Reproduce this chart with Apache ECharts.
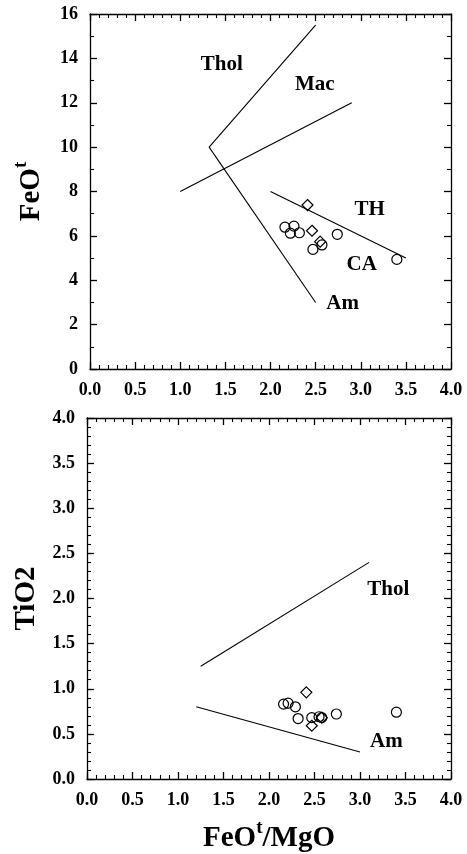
<!DOCTYPE html>
<html>
<head>
<meta charset="utf-8">
<script src="https://cdn.jsdelivr.net/npm/echarts@6/dist/echarts.min.js"></script>
<style>
  html, body { margin: 0; padding: 0; background: #fff; }
  #chart { width: 467px; height: 854px; }
</style>
</head>
<body>
<div id="chart"></div>
<script>
// FeOt vs FeOt/MgO (upper panel)
const feoCircles = [[2.16, 6.39], [2.26, 6.44], [2.22, 6.12], [2.32, 6.14], [2.47, 5.39], [2.57, 5.59], [2.74, 6.07], [3.40, 4.94]];
const feoDiamonds = [[2.41, 7.39], [2.46, 6.23], [2.55, 5.74]];
const feoTholAm = [[2.5, 15.5], [1.32, 10.0], [2.5, 3.0]];
const feoMacLine = [[1.0, 8.0], [2.9, 12.0]];
const feoThCaLine = [[2.0, 8.0], [3.5, 5.0]];
const feoFieldNames = ['Thol', 'Mac', 'TH', 'CA', 'Am'];
const feoFieldPos = [[1.46, 13.7], [2.49, 12.8], [3.1, 7.17], [3.01, 4.69], [2.8, 2.97]];

// TiO2 vs FeOt/MgO (lower panel)
const tiCircles = [[2.16, 0.83], [2.21, 0.84], [2.29, 0.80], [2.32, 0.67], [2.47, 0.68], [2.55, 0.69], [2.58, 0.68], [2.74, 0.72], [3.40, 0.74]];
const tiDiamonds = [[2.41, 0.96], [2.47, 0.59], [2.58, 0.68]];
const tiTholLine = [[1.25, 1.25], [3.1, 2.4]];
const tiAmLine = [[1.2, 0.8], [3.0, 0.3]];
const tiFieldNames = ['Thol', 'Am'];
const tiFieldPos = [[3.31, 2.1], [3.29, 0.42]];

// Axis ranges
const xRange = { min: 0, max: 4, interval: 0.5, minor: 5 };
const feoRange = { min: 0, max: 16, interval: 2, minor: 2 };
const tiRange = { min: 0, max: 4, interval: 0.5, minor: 5 };

const INK = '#000';
const SERIF = '"Liberation Serif", "DejaVu Serif", serif';

// Framed axis: ticks point into the plot; only bottom/left carry labels
function axis(pos, gridIndex, range, fmt, extra) {
  const a = {
    type: 'value', gridIndex: gridIndex, position: pos,
    min: range.min, max: range.max, interval: range.interval,
    splitLine: { show: false },
    axisLine: { show: true, onZero: false, lineStyle: { color: INK, width: 1.3 } },
    axisTick: { show: true, inside: true, length: 7, lineStyle: { color: INK, width: 1.3 } },
    minorTick: { show: true, splitNumber: range.minor, length: 4, lineStyle: { color: INK, width: 1.1 } },
    minorSplitLine: { show: false },
    axisLabel: { show: pos === 'bottom' || pos === 'left', fontFamily: SERIF, fontWeight: 'bold', fontSize: 18, color: INK, margin: 12 }
  };
  if (fmt) a.axisLabel.formatter = fmt;
  return Object.assign(a, extra || {});
}

function boundary(data, xi, yi) {
  return {
    type: 'line', data: data, xAxisIndex: xi, yAxisIndex: yi,
    showSymbol: false, symbol: 'none', silent: true,
    lineStyle: { color: INK, width: 1.1 }
  };
}

function markers(data, shape, size, xi, yi) {
  return {
    type: 'scatter', data: data, xAxisIndex: xi, yAxisIndex: yi,
    symbol: shape, symbolSize: size,
    itemStyle: { color: 'rgba(255,255,255,0)', borderColor: INK, borderWidth: 1.2, opacity: 1 }
  };
}

function fieldLabels(names, pos, xi, yi) {
  return {
    type: 'scatter', xAxisIndex: xi, yAxisIndex: yi, symbolSize: 1, silent: true,
    itemStyle: { color: 'rgba(255,255,255,0)', opacity: 1 },
    data: names.map((n, i) => ({ name: n, value: pos[i] })),
    label: {
      show: true, position: 'inside', formatter: '{b}',
      fontFamily: SERIF, fontWeight: 'bold', fontSize: 21, color: INK
    }
  };
}

const fmt1 = v => v.toFixed(1);
const fmt0 = v => String(Math.round(v));

const nameRich = {
  b: { fontFamily: SERIF, fontWeight: 'bold', fontSize: 29, color: INK, lineHeight: 34, verticalAlign: 'bottom' },
  s: { fontFamily: SERIF, fontWeight: 'bold', fontSize: 19, color: INK, lineHeight: 34, verticalAlign: 'top' }
};

const option = {
  backgroundColor: '#fff',
  animation: false,
  grid: [
    { left: 90, top: 14, width: 361, height: 355 },
    { left: 87, top: 418, width: 364, height: 362 }
  ],
  xAxis: [
    axis('bottom', 0, xRange, fmt1),
    axis('bottom', 1, xRange, fmt1, {
      name: '{b|FeO}{s|t}{b|/MgO}', nameLocation: 'middle', nameGap: 40,
      nameTextStyle: { rich: nameRich }
    }),
    axis('top', 0, xRange),
    axis('top', 1, xRange)
  ],
  yAxis: [
    axis('left', 0, feoRange, fmt0, {
      name: '{b|FeO}{s|t}', nameLocation: 'middle', nameGap: 44, nameRotate: 90,
      nameTextStyle: { rich: nameRich }
    }),
    axis('left', 1, tiRange, fmt1, {
      name: '{b|TiO2}', nameLocation: 'middle', nameGap: 46, nameRotate: 90,
      nameTextStyle: { rich: nameRich }
    }),
    axis('right', 0, feoRange),
    axis('right', 1, tiRange)
  ],
  series: [
    boundary(feoTholAm, 0, 0),
    boundary(feoMacLine, 0, 0),
    boundary(feoThCaLine, 0, 0),
    markers(feoCircles, 'circle', 10, 0, 0),
    markers(feoDiamonds, 'diamond', 11, 0, 0),
    fieldLabels(feoFieldNames, feoFieldPos, 0, 0),

    boundary(tiTholLine, 1, 1),
    boundary(tiAmLine, 1, 1),
    markers(tiCircles, 'circle', 10, 1, 1),
    markers(tiDiamonds, 'diamond', 11, 1, 1),
    fieldLabels(tiFieldNames, tiFieldPos, 1, 1)
  ]
};

const chart = echarts.init(document.getElementById('chart'), null, { renderer: 'canvas' });
chart.setOption(option);
</script>
</body>
</html>
